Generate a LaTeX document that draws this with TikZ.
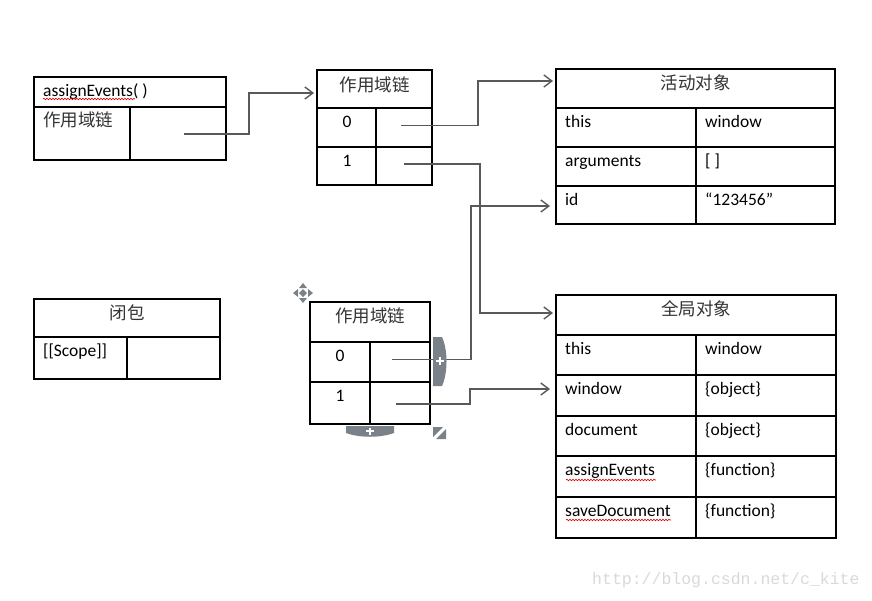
\documentclass[tikz,border=0pt]{standalone}
\usepackage{fontspec}
\setmainfont{Carlito}
\setmonofont{Liberation Mono}
\newfontfamily\cjk{Noto Sans CJK SC}
\usetikzlibrary{arrows.meta,decorations.pathmorphing}
\definecolor{tabgray}{HTML}{7A8188}
\definecolor{ptrgray}{HTML}{595959}
\newcommand\fsz{\fontsize{17.5}{21}\selectfont}
\begin{document}
\begin{tikzpicture}[x=1pt,y=-1pt,
    box/.style={draw=black,line width=1.2pt},
    ptr/.style={draw=ptrgray,line width=1.4pt,-{Straight Barb[length=8pt,width=12pt]}},
    key/.style={anchor=base west,inner sep=0pt,font=\fsz},
    hd/.style={anchor=base,inner sep=0pt,font=\cjk\fsz,text=black!80},
    spell/.style={draw=red!85!black,line width=0.6pt,decorate,
        decoration={snake,amplitude=0.8pt,segment length=3pt}}]
    % 画布大小
    \useasboundingbox (0,0) rectangle (872,600);

    % 函数 assignEvents
    \draw[box] (34,77) rectangle (226,160);
    \draw[box] (34,107) -- (226,107) (130,107) -- (130,160);
    \node[key] (a-name) at (43,96) {assignEvents( )};
    \draw[spell] (43,99) -- (135,99);
    \node[key,font=\cjk\fsz,text=black!80] (a-scope) at (43,126) {作用域链};
    \coordinate (a-ptr) at (184,134);

    % 作用域链（上）
    \draw[box] (317,70) rectangle (432,185);
    \foreach \y in {108,147} \draw[box] (317,\y) -- (432,\y);
    \draw[box] (376,108) -- (376,185);
    \node[hd] (b-title) at (374.5,91) {作用域链};
    \foreach \i/\y in {0/108,1/147}
        \node[key,anchor=base] (b-idx\i) at (347,\y+19) {\i};
    \coordinate (b-in) at (314,93);
    \coordinate (b-ptr0) at (401,125.5);
    \coordinate (b-ptr1) at (404,164);

    % 活动对象
    \draw[box] (556,69) rectangle (835,224);
    \foreach \y in {108,147,186} \draw[box] (556,\y) -- (835,\y);
    \draw[box] (696,108) -- (696,224);
    \node[hd] (c-title) at (695.5,89) {活动对象};
    \foreach \k/\v [count=\i] in {this/window,arguments/{[ ]},id/“123456”} {
        \pgfmathsetmacro\yb{108+39*(\i-1)+19}
        \node[key] (c-key\i) at (565,\yb) {\k};
        \node[key] (c-val\i) at (705,\yb) {\v};
    }
    \coordinate (c-in) at (553,81);
    \coordinate (c-id) at (550,206);

    % 闭包
    \draw[box] (34,299) rectangle (220,379);
    \draw[box] (34,337) -- (220,337) (127,337) -- (127,379);
    \node[hd] (d-title) at (127,319) {闭包};
    \node[key] (d-scope) at (43,356) {[[Scope]]};

    % 作用域链（下）
    \draw[box] (310,302) rectangle (430,424);
    \foreach \y in {342,382} \draw[box] (310,\y) -- (430,\y);
    \draw[box] (370,342) -- (370,424);
    \node[hd] (e-title) at (370,322) {作用域链};
    \foreach \i/\y in {0/342,1/382}
        \node[key,anchor=base] (e-idx\i) at (340,\y+19.5) {\i};
    \coordinate (e-ptr0) at (392,359.5);
    \coordinate (e-ptr1) at (396,404);

    % 全局对象
    \draw[box] (556,295) rectangle (836,538);
    \foreach \y in {335,375,416,456,497} \draw[box] (556,\y) -- (836,\y);
    \draw[box] (696,335) -- (696,538);
    \node[hd] (f-title) at (696,315) {全局对象};
    \foreach \k/\v/\y [count=\i] in {this/window/335,window/\{object\}/375,
        document/\{object\}/416,assignEvents/\{function\}/456,
        saveDocument/\{function\}/497} {
        \node[key] (f-key\i) at (565,\y+19) {\k};
        \node[key] (f-val\i) at (705,\y+19) {\v};
    }
    \draw[spell] (566,480) -- (656,480);
    \draw[spell] (566,520) -- (671,520);
    \coordinate (f-in) at (553,313);
    \coordinate (f-win) at (550,389);

    % 指针
    \draw[ptr] (a-ptr) -- ++(65,0) |- (b-in);
    \draw[ptr] (b-ptr0) -- ++(77,0) |- (c-in);
    \draw[ptr] (b-ptr1) -- ++(76,0) |- (f-in);
    \draw[ptr] (e-ptr0) -- ++(79,0) |- (c-id);
    \draw[ptr] (e-ptr1) -- ++(74,0) |- (f-win);

    % 编辑器控件
    \fill[tabgray] (433,337) -- (442,337) .. controls (448,350) and (448,373) .. (442,386) -- (433,386) -- cycle;
    \draw[white,line width=2pt] (436,361) -- (444,361) (440,357) -- (440,365);
    \fill[tabgray] (346,426) -- (394,426) -- (394,433) .. controls (380,438) and (360,438) .. (346,433) -- cycle;
    \draw[white,line width=2pt] (366,431) -- (374,431) (370,427.5) -- (370,434.5);
    \fill[tabgray] (433,427) -- (443,427) -- (433,437) -- cycle;
    \fill[tabgray] (446,429) -- (446,439) -- (436,439) -- cycle;
    \foreach \a in {0,90,180,270}
        \fill[tabgray,rotate around={\a:(303,293)}] (303,283) -- (307,288) -- (299,288) -- cycle;
    \fill[tabgray] (303,289) -- (307,293) -- (303,297) -- (299,293) -- cycle;

    % 水印
    \node[anchor=base west,inner sep=0pt,font=\ttfamily\fontsize{16.5}{18}\selectfont,text=black!15]
        (mark) at (592,584) {http://blog.csdn.net/c\_kite};
\end{tikzpicture}
\end{document}
